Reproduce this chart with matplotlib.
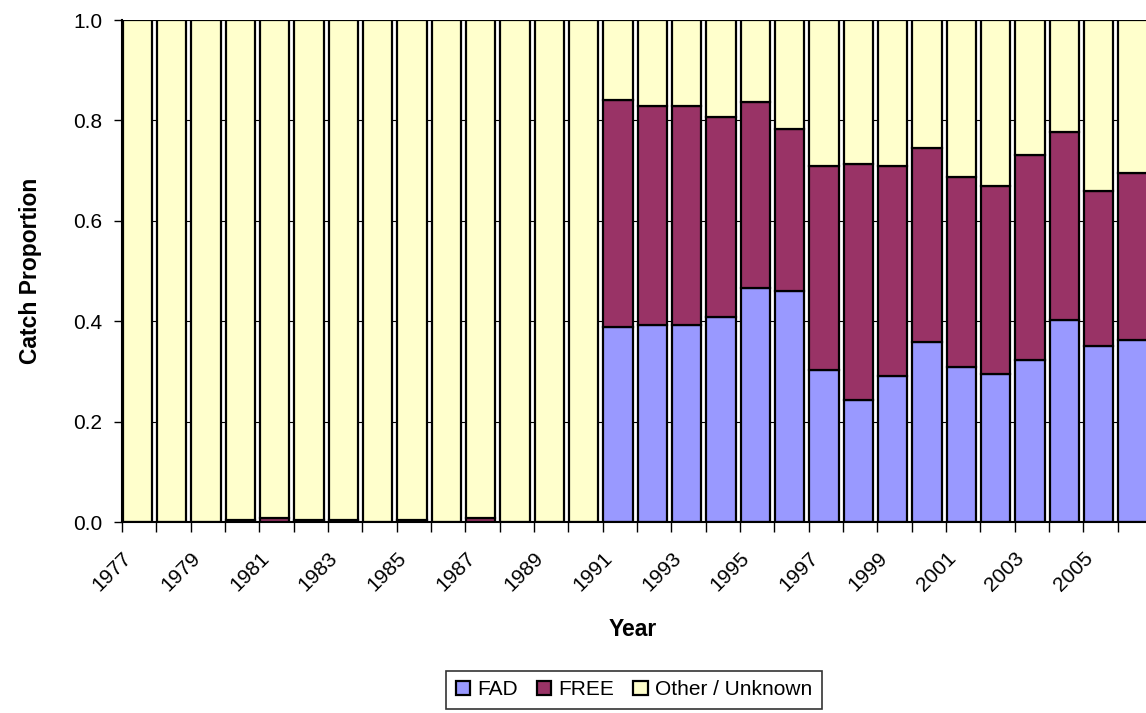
import numpy as np
import matplotlib
matplotlib.use('Agg')
import matplotlib.pyplot as plt


###  Data

years = list(range(1977, 2007))

fad = [0, 0, 0, 0, 0, 0, 0, 0, 0, 0, 0, 0, 0, 0,
       0.389, 0.393, 0.393, 0.409, 0.467, 0.460, 0.302, 0.243,
       0.291, 0.359, 0.309, 0.294, 0.323, 0.402, 0.351, 0.363]

free_top = [0, 0, 0, 0.003, 0.008, 0.004, 0.004, 0, 0.004, 0, 0.008, 0, 0, 0,
            0.841, 0.829, 0.829, 0.807, 0.836, 0.783, 0.710, 0.713,
            0.710, 0.746, 0.688, 0.669, 0.731, 0.776, 0.659, 0.696]

fad = np.array(fad)
free = np.array(free_top) - fad
other = 1.0 - fad - free

labels = ['FAD', 'FREE', 'Other / Unknown']
colors = ['#9999FF', '#993366', '#FFFFCC']


###  Plot

plt.rcParams['font.family'] = ['Liberation Sans', 'DejaVu Sans']
fs = 15
fs_lab = 16.5

fig = plt.figure(figsize=(11.46, 7.13), dpi=100)
ax = fig.add_axes([122/1146, 1 - 522/713, 1030/1146, 502/713])

x = np.arange(len(years))
w = 0.85
ax.bar(x + 0.02, fad, width=w, align='edge', color=colors[0], edgecolor='black', linewidth=1.6, label=labels[0])
ax.bar(x + 0.02, free, width=w, bottom=fad, align='edge', color=colors[1], edgecolor='black', linewidth=1.6, label=labels[1])
ax.bar(x + 0.02, other, width=w, bottom=fad + free, align='edge', color=colors[2], edgecolor='black', linewidth=1.6, label=labels[2])

ax.set_xlim(0, len(years))
ax.set_ylim(0, 1.0)
ax.set_yticks(np.arange(0, 1.01, 0.2))
ax.set_yticklabels(['%.1f' % v for v in np.arange(0, 1.01, 0.2)], fontsize=fs)
ax.yaxis.grid(True, color='black', linewidth=0.8)
ax.set_axisbelow(True)

ax.set_xticks(np.arange(0, len(years) + 1))
xt = [str(years[i]) if (i % 2 == 0 and i < len(years)) else '' for i in range(len(years) + 1)]
ax.set_xticklabels(xt, fontsize=fs, rotation=45, ha='right', va='top', rotation_mode='anchor')

ax.tick_params(axis='x', length=7, width=1, direction='out', pad=12)
ax.tick_params(axis='y', length=6, width=1, direction='out', pad=8)

for s in ['top', 'right']:
    ax.spines[s].set_visible(False)
ax.spines['left'].set_linewidth(1.5)
ax.spines['bottom'].set_linewidth(1.5)

ax.set_xlabel('Year', fontsize=fs_lab, fontweight='bold')
ax.xaxis.set_label_coords((633 - 122) / 1030, (522 - 618) / 502)
ax.set_ylabel('Catch Proportion', fontsize=fs_lab, fontweight='bold')
ax.yaxis.set_label_coords(-(122 - 42) / 1030, (522 - 271) / 502)

leg = fig.legend(loc='upper center', bbox_to_anchor=(634/1146, 1 - 671/713), ncol=3,
                 fontsize=fs, frameon=True, fancybox=False, edgecolor='black',
                 handlelength=0.7, handleheight=0.7, handletextpad=0.35,
                 columnspacing=0.9, borderpad=0.45, borderaxespad=0)
leg.get_frame().set_linewidth(1.2)

plt.savefig('out.png', dpi=100)
